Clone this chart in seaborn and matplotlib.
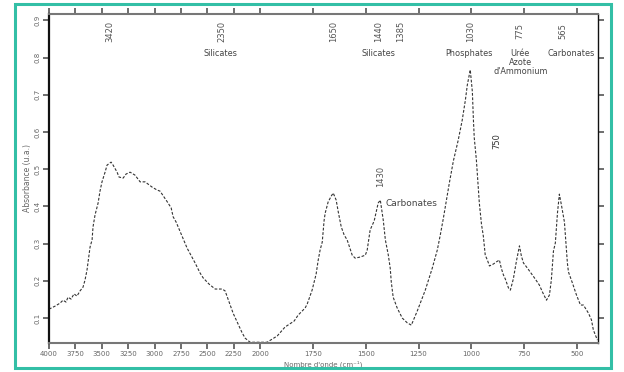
import numpy as np
import pandas as pd
import matplotlib
matplotlib.use("Agg")
import matplotlib.pyplot as plt
import seaborn as sns
from matplotlib.patches import Rectangle

# Spectre IR : nombre d'onde (cm-1) et absorbance
wavenumber = [4000, 3943, 3896, 3867, 3839, 3820, 3791, 3763, 3735, 3706,
              3678, 3659, 3640, 3621, 3611, 3592, 3583, 3564, 3535, 3517,
              3498, 3469, 3450, 3412, 3393, 3355, 3337, 3298, 3270, 3232,
              3185, 3137, 3090, 3024, 2976, 2948, 2872, 2843, 2824, 2796,
              2692, 2616, 2569, 2540, 2483, 2426, 2360, 2332, 2256, 2170,
              2142, 2095, 2028, 1967, 1919, 1882, 1839, 1820, 1787, 1777,
              1754, 1735, 1725, 1716, 1706, 1701, 1697, 1692, 1678, 1663,
              1654, 1640, 1630, 1616, 1602, 1588, 1564, 1550, 1526, 1502,
              1493, 1479, 1460, 1441, 1431, 1417, 1407, 1393, 1384, 1379,
              1370, 1351, 1327, 1303, 1284, 1256, 1218, 1185, 1161, 1147,
              1133, 1118, 1104, 1085, 1062, 1043, 1028, 1019, 1005, 995,
              990, 986, 976, 962, 952, 943, 934, 924, 914, 896,
              881, 867, 858, 848, 839, 824, 815, 801, 787, 772,
              763, 753, 734, 711, 701, 678, 663, 644, 630, 621,
              611, 602, 592, 583, 573, 559, 545, 540, 521, 502,
              483, 469, 455, 445, 431, 422, 412, 403]
absorbance = [0.124, 0.132, 0.140, 0.148, 0.143, 0.156, 0.151, 0.165, 0.159, 0.173,
              0.183, 0.202, 0.229, 0.269, 0.291, 0.310, 0.345, 0.377, 0.409, 0.441,
              0.466, 0.492, 0.511, 0.519, 0.511, 0.492, 0.479, 0.476, 0.487, 0.492,
              0.484, 0.466, 0.466, 0.452, 0.444, 0.441, 0.409, 0.396, 0.372, 0.358,
              0.288, 0.248, 0.221, 0.208, 0.191, 0.178, 0.178, 0.173, 0.113, 0.060,
              0.046, 0.035, 0.035, 0.035, 0.052, 0.076, 0.092, 0.108, 0.127, 0.138,
              0.175, 0.218, 0.256, 0.283, 0.304, 0.337, 0.363, 0.382, 0.412, 0.428,
              0.436, 0.417, 0.385, 0.345, 0.323, 0.310, 0.269, 0.261, 0.264, 0.269,
              0.283, 0.337, 0.361, 0.409, 0.417, 0.363, 0.310, 0.269, 0.234, 0.197,
              0.156, 0.127, 0.100, 0.087, 0.081, 0.119, 0.175, 0.234, 0.283, 0.323,
              0.366, 0.417, 0.463, 0.522, 0.578, 0.632, 0.686, 0.726, 0.767, 0.708,
              0.632, 0.584, 0.525, 0.409, 0.353, 0.320, 0.269, 0.256, 0.240, 0.245,
              0.251, 0.256, 0.234, 0.216, 0.205, 0.181, 0.175, 0.205, 0.251, 0.294,
              0.267, 0.248, 0.234, 0.216, 0.208, 0.189, 0.170, 0.148, 0.162, 0.202,
              0.280, 0.302, 0.382, 0.433, 0.403, 0.358, 0.248, 0.224, 0.194, 0.162,
              0.135, 0.135, 0.122, 0.113, 0.095, 0.068, 0.054, 0.041]

# bandes annotees en haut du spectre
band_pos = [3420, 2360, 1654, 1441, 1336, 1005, 768, 564]
band_text = ["3420", "2350", "1650", "1440", "1385", "1030", "775", "565"]

group_pos = [2379, 1441, 1012, 768, 528]
group_text = ["Silicates", "Silicates", "Phosphates", "Urée\nAzote\nd'Ammonium", "Carbonates"]

x_ticks = [4000, 3750, 3500, 3250, 3000, 2750, 2500, 2250, 2000, 1750, 1500, 1250, 1000, 750, 500]
y_ticks = [0.1, 0.2, 0.3, 0.4, 0.5, 0.6, 0.7, 0.8, 0.9]

df = pd.DataFrame({"wn": wavenumber, "A": absorbance})

sns.set_theme(style="ticks")
plt.rcParams["font.family"] = ["DejaVu Sans"]

fig = plt.figure(figsize=(6.24, 3.72), dpi=100)
ax = fig.add_axes([49 / 624, 1 - 343 / 372, 549 / 624, 329 / 372])


# echelle dilatee x2 en dessous de 2000 cm-1
def fwd(w):
    w = np.asarray(w, dtype=float)
    return np.where(w >= 2000, w, 2 * w - 2000)


def inv(p):
    p = np.asarray(p, dtype=float)
    return np.where(p >= 2000, p, (p + 2000) / 2)


ax.set_xscale("function", functions=(fwd, inv))
sns.lineplot(data=df, x="wn", y="A", ax=ax, color="#333333", linewidth=0.8,
             estimator=None, sort=False, linestyle=(0, (2.5, 1.5)))
ax.set_xlim(4000, 400)
ax.set_ylim(0.033, 0.917)

ax.set_xticks(x_ticks)
ax.set_xticklabels([str(t) for t in x_ticks])
ax.set_yticks(y_ticks)
ax.set_yticklabels([f"{t:.1f}" for t in y_ticks], rotation=90, va="center")
ax.tick_params(axis="both", direction="out", length=4, width=1.2, labelsize=5,
               labelcolor="#666666", color="#555555", top=True, right=True, pad=2)
ax.minorticks_off()

for side in ["left", "right"]:
    ax.spines[side].set_color("#111111")
ax.spines["left"].set_linewidth(1.6)
ax.spines["right"].set_linewidth(1.0)
for side in ["top", "bottom"]:
    ax.spines[side].set_color("#777777")
    ax.spines[side].set_linewidth(1.5)

ax.set_xlabel("Nombre d'onde (cm⁻¹)", fontsize=5, color="#666666", labelpad=2)
ax.set_ylabel("Absorbance (u.a.)", fontsize=5.5, color="#666666", labelpad=2)

for pos, txt in zip(band_pos, band_text):
    ax.text(pos, 0.87, txt, rotation=90, ha="center", va="center",
            fontsize=6, color="#555555")
for pos, txt in zip(group_pos, group_text):
    ax.text(pos, 0.822, txt, ha="center", va="top", fontsize=5.9,
            color="#444444", linespacing=0.95)

ax.text(1430, 0.48, "1430", rotation=90, ha="center", va="center", fontsize=6, color="#555555")
ax.text(1407, 0.409, "Carbonates", ha="left", va="center", fontsize=6.5, color="#444444")
ax.text(877, 0.575, "750", rotation=90, ha="center", va="center", fontsize=6, color="#333333")

# cadre turquoise autour de la figure
fig.patches.append(Rectangle((15 / 624, 4 / 372), 596 / 624, 364 / 372,
                             transform=fig.transFigure, fill=False,
                             edgecolor="#33bfa6", linewidth=2.2))

fig.savefig("out.png", dpi=100)
